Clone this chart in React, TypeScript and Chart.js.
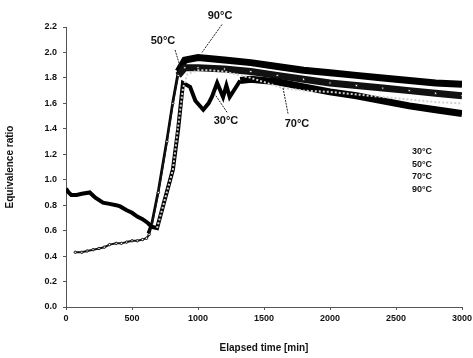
import React, { useEffect, useRef } from "react";
import { Chart, registerables } from "chart.js";
Chart.register(...registerables);

// Elapsed time [min] and equivalence ratio per series
const t30 = [0, 20, 40, 80, 120, 180, 220, 280, 330, 380, 410, 460, 500, 540, 580, 620, 650, 690, 750, 810, 850, 886, 940, 980, 1040, 1080, 1105, 1145, 1190, 1215, 1240, 1320, 1400, 1600, 1800, 2000, 2200, 2400, 2600, 2800, 3000];
const v30 = [0.93, 0.9, 0.88, 0.88, 0.89, 0.9, 0.86, 0.82, 0.81, 0.8, 0.79, 0.76, 0.74, 0.71, 0.69, 0.66, 0.63, 0.62, 0.85, 1.08, 1.4, 1.76, 1.73, 1.62, 1.55, 1.6, 1.65, 1.76, 1.65, 1.74, 1.65, 1.78, 1.79, 1.77, 1.73, 1.69, 1.66, 1.62, 1.58, 1.55, 1.52];

const t50 = [70, 120, 160, 205, 250, 290, 330, 380, 420, 460, 500, 540, 580, 610, 630, 650, 700, 765, 810, 850, 900, 1000, 1200, 1400, 1600, 1800, 2000, 2200, 2400, 2600, 2800, 3000];
const v50 = [0.43, 0.43, 0.44, 0.45, 0.46, 0.47, 0.49, 0.5, 0.5, 0.51, 0.52, 0.52, 0.53, 0.54, 0.57, 0.64, 0.9, 1.3, 1.6, 1.82, 1.88, 1.88, 1.87, 1.85, 1.82, 1.79, 1.76, 1.74, 1.72, 1.7, 1.68, 1.66];

const t70 = [690, 750, 810, 850, 886, 920, 1000, 1100, 1200, 1400, 1644, 1800, 2000, 2200, 2400, 2600, 2800, 3000];
const v70 = [0.62, 0.85, 1.08, 1.42, 1.72, 1.83, 1.86, 1.86, 1.85, 1.8, 1.72, 1.7, 1.69, 1.67, 1.65, 1.63, 1.61, 1.6];

const t90 = [620, 650, 700, 765, 810, 850, 900, 1000, 1100, 1200, 1400, 1600, 1800, 2000, 2200, 2400, 2600, 2800, 3000];
const v90 = [0.58, 0.66, 0.92, 1.32, 1.62, 1.85, 1.94, 1.96, 1.95, 1.94, 1.92, 1.89, 1.86, 1.84, 1.82, 1.8, 1.78, 1.76, 1.75];

const legendLabels = ["30°C", "50°C", "70°C", "90°C"];

// annotation labels: text, label position (t, v), leader start (t, v), leader end (t, v)
const annText = ["90°C", "50°C", "30°C", "70°C"];
const annLabelT = [1167, 735, 1212, 1750];
const annLabelV = [2.29, 2.09, 1.46, 1.44];
const annFromT = [1182, 826, 1220, 1682];
const annFromV = [2.22, 2.02, 1.53, 1.52];
const annToT = [1030, 864, 1129, 1644];
const annToV = [2.0, 1.89, 1.67, 1.72];

const xTicks = [0, 500, 1000, 1500, 2000, 2500, 3000];

const pts = (t: number[], v: number[]) => t.map((x, i) => ({ x, y: v[i] }));

const annotationPlugin = {
  id: "annotations",
  afterDatasetsDraw(chart: any) {
    const { ctx, scales } = chart;
    const xs = scales.x, ys = scales.y;
    ctx.save();
    ctx.strokeStyle = "#222";
    ctx.lineWidth = 1;
    ctx.setLineDash([2, 1]);
    for (let i = 0; i < annText.length; i++) {
      ctx.beginPath();
      ctx.moveTo(xs.getPixelForValue(annFromT[i]), ys.getPixelForValue(annFromV[i]));
      ctx.lineTo(xs.getPixelForValue(annToT[i]), ys.getPixelForValue(annToV[i]));
      ctx.stroke();
    }
    ctx.setLineDash([]);
    ctx.fillStyle = "#111";
    ctx.font = "bold 11px 'Liberation Sans', Arial, sans-serif";
    ctx.textAlign = "center";
    ctx.textBaseline = "middle";
    for (let i = 0; i < annText.length; i++) {
      ctx.fillText(annText[i], xs.getPixelForValue(annLabelT[i]), ys.getPixelForValue(annLabelV[i]));
    }
    // legend text inside plot area
    const ca = chart.chartArea;
    ctx.font = "bold 9px 'Liberation Sans', Arial, sans-serif";
    ctx.textAlign = "left";
    for (let i = 0; i < legendLabels.length; i++) {
      ctx.fillText(legendLabels[i], ca.right - 50, ca.top + 125 + i * 12.5);
    }
    ctx.restore();
  },
};

export default function App() {
  const ref = useRef<HTMLCanvasElement>(null);
  useEffect(() => {
    document.body.style.margin = "0";
    const chart = new Chart(ref.current as HTMLCanvasElement, {
      type: "line",
      data: {
        datasets: [
          {
            label: "70°C",
            data: pts(t70, v70),
            borderColor: "#d0d0d0",
            borderWidth: 2,
            borderDash: [2, 2],
            pointRadius: 0,
            order: 0,
          },
          {
            label: "50°C",
            data: pts(t50, v50),
            borderColor: "#111",
            borderWidth: 2,
            segment: { borderWidth: (c: any) => (c.p0.parsed.x >= 850 ? 7 : 2) },
            pointRadius: 1.2,
            pointBackgroundColor: "#fff",
            pointBorderColor: "#111",
            pointBorderWidth: 1,
            order: 2,
          },
          {
            label: "30°C",
            data: pts(t30, v30),
            borderColor: "#000",
            borderWidth: 4,
            segment: { borderWidth: (c: any) => (c.p0.parsed.x >= 1300 ? 7 : 4) },
            pointRadius: 0,
            order: 1,
          },
          {
            label: "90°C",
            data: pts(t90, v90),
            borderColor: "#000",
            borderWidth: 7,
            segment: { borderWidth: (c: any) => (c.p0.parsed.x >= 850 ? 7 : 2.5) },
            pointRadius: 0,
            order: 3,
          },
        ],
      },
      options: {
        animation: false,
        responsive: false,
        layout: { padding: { top: 27, right: 11, left: 0, bottom: 0 } },
        plugins: { legend: { display: false }, tooltip: { enabled: false } },
        scales: {
          x: {
            type: "linear",
            min: 0,
            max: 3000,
            afterBuildTicks: (s: any) => {
              s.ticks = xTicks.map((v) => ({ value: v }));
            },
            afterFit: (s: any) => {
              s.height = 51;
              s.paddingLeft = 0;
              s.paddingRight = 0;
            },
            border: { display: true, color: "#555", width: 1 },
            grid: { drawOnChartArea: false, drawTicks: true, tickLength: 3, color: "#555" },
            ticks: {
              color: "#111",
              font: { size: 9, family: "'Liberation Sans', Arial, sans-serif", weight: "bold" },
              maxRotation: 0,
              padding: 3,
              callback: (v: any) => String(v),
            },
            title: {
              display: true,
              text: "Elapsed time [min]",
              color: "#111",
              font: { size: 10, family: "'Liberation Sans', Arial, sans-serif", weight: "bold" },
              padding: { top: 6 },
            },
          },
          y: {
            min: 0,
            max: 2.2,
            ticks: {
              stepSize: 0.2,
              color: "#111",
              font: { size: 9, family: "'Liberation Sans', Arial, sans-serif", weight: "bold" },
              padding: 6,
              callback: (v: any) => Number(v).toFixed(1),
            },
            afterFit: (s: any) => {
              s.width = 66;
            },
            border: { display: true, color: "#555", width: 1 },
            grid: { drawOnChartArea: false, drawTicks: true, tickLength: 3, color: "#555" },
            title: {
              display: true,
              text: "Equivalence ratio",
              color: "#111",
              font: { size: 10, family: "'Liberation Sans', Arial, sans-serif", weight: "bold" },
              padding: { bottom: 4 },
            },
          },
        },
      },
      plugins: [annotationPlugin],
    } as any);
    return () => chart.destroy();
  }, []);
  return (
    <div style={{ width: 473, height: 358, background: "#fff" }}>
      <canvas ref={ref} width={473} height={358} style={{ display: "block" }} />
    </div>
  );
}
